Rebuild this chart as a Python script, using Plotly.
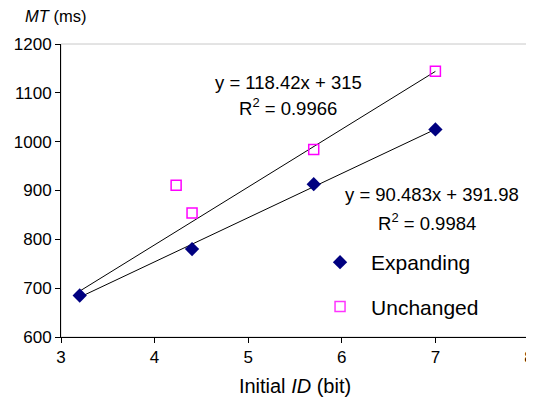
import plotly.graph_objects as go

# Data
exp_x = [3.2, 4.4, 5.7, 7.0]
exp_y = [685, 780, 913, 1025]
unc_x = [3.2, 4.23, 4.4, 5.7, 7.0]
unc_y = [685, 911, 854, 984, 1144]

# Trendline coefficients (slope, intercept) and range
exp_fit = [90.483, 391.98]
unc_fit = [118.42, 315]
fit_range = [3.2, 7.0]

x_ticks = [3, 4, 5, 6, 7, 8]
y_ticks = [600, 700, 800, 900, 1000, 1100, 1200]

FONT = "Liberation Sans, Arial, sans-serif"

fig = go.Figure()

# Trendlines
for fit in (unc_fit, exp_fit):
    fig.add_trace(go.Scatter(
        x=fit_range, y=[fit[0] * v + fit[1] for v in fit_range],
        mode="lines", line=dict(color="black", width=1),
        showlegend=False, hoverinfo="skip"))

# first Unchanged point lies hidden under the Expanding diamond
unc_opacity = [0] + [1] * (len(unc_x) - 1)

fig.add_trace(go.Scatter(
    x=exp_x, y=exp_y, mode="markers", name="Expanding",
    legendgroup="a",
    marker=dict(symbol="diamond", color="#000080", size=11,
                line=dict(width=0))))
fig.add_trace(go.Scatter(
    x=unc_x, y=unc_y, mode="markers", name="Unchanged",
    legendgroup="b",
    marker=dict(symbol="square-open", color="#FF00FF", size=10,
                opacity=unc_opacity,
                line=dict(width=1.5, color="#FF00FF"))))

fig.add_shape(type="rect", xref="paper", yref="paper", x0=0, x1=1, y0=0, y1=1,
              line=dict(color="#C8C8C8", width=1), layer="below")

fig.update_layout(
    width=526, height=398,
    margin=dict(l=52.5, r=5, t=36, b=69),
    paper_bgcolor="white", plot_bgcolor="white",
    font=dict(family=FONT, size=17, color="black"),
    showlegend=True,
    legend=dict(x=0.53, y=0.324, xanchor="left", yanchor="top",
                font=dict(size=21), bgcolor="rgba(0,0,0,0)",
                itemwidth=52,
                traceorder="grouped", tracegroupgap=14),
    xaxis=dict(range=[3, 8], tickvals=x_ticks, showgrid=False, zeroline=False,
               showline=True, linecolor="black", linewidth=1,
               ticks="outside", ticklen=5, tickcolor="black",
               tickfont=dict(size=17), automargin=False,
               ticklabeloverflow="allow",
               title=dict(text="Initial <i>ID</i> (bit)", font=dict(size=20), standoff=12)),
    yaxis=dict(range=[600, 1200], tickvals=y_ticks, showgrid=False, zeroline=False,
               showline=True, linecolor="black", linewidth=1,
               ticks="outside", ticklen=5, tickcolor="black",
               tickfont=dict(size=17), automargin=False),
    annotations=[
        dict(text="<i>MT</i> (ms)", xref="paper", yref="paper", x=0, y=1.0,
             xshift=-38, yshift=28, xanchor="left", yanchor="middle", showarrow=False,
             font=dict(size=16.5)),
        dict(text="y = 118.42x + 315", x=5.43, y=1122, xanchor="center",
             yanchor="middle", showarrow=False, font=dict(size=18.5)),
        dict(text="R<sup>2</sup> = 0.9966", x=5.43, y=1071, xanchor="center",
             yanchor="middle", showarrow=False, font=dict(size=18.5)),
        dict(text="y = 90.483x + 391.98", x=6.96, y=891, xanchor="center",
             yanchor="middle", showarrow=False, font=dict(size=18.5)),
        dict(text="R<sup>2</sup> = 0.9984", x=6.91, y=835, xanchor="center",
             yanchor="middle", showarrow=False, font=dict(size=18.5)),
    ],
)

fig.write_html("out.html")
